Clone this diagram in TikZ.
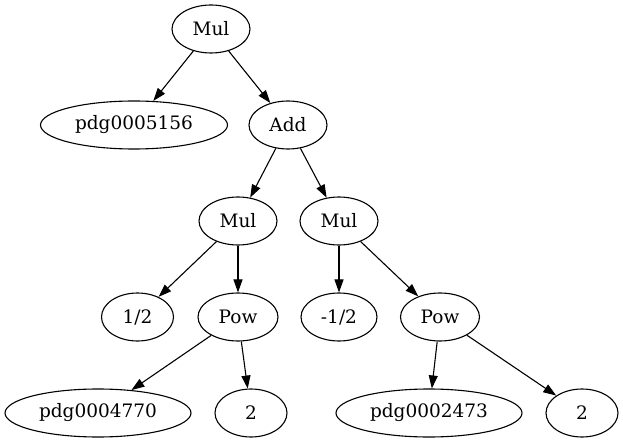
\documentclass[tikz,border=0pt]{standalone}
\usepackage{fontspec}
\setmainfont{DejaVu Serif}
\usetikzlibrary{arrows.meta,shapes.geometric}
\begin{document}
\begin{tikzpicture}[x=1pt,y=-1pt,
  nd/.style={draw,ellipse,line width=1.1pt,minimum height=48pt,inner sep=0pt,
    font=\fontsize{18.5}{22}\selectfont},
  ed/.style={line width=1.1pt,-{Triangle[length=13pt,width=9pt]}}]
\useasboundingbox (0,0) rectangle (623,443);
\node[nd,minimum width=78pt] (m1) at (211,29) {Mul};
\node[nd,minimum width=187pt] (p5156) at (134,125) {pdg0005156};
\node[nd,minimum width=78pt] (add) at (288,125) {Add};
\node[nd,minimum width=78pt] (m2) at (238,221) {Mul};
\node[nd,minimum width=78pt] (m3) at (339,221) {Mul};
\node[nd,minimum width=72pt] (h1) at (137.5,317) {1/2};
\node[nd,minimum width=80pt] (pow1) at (238,317) {Pow};
\node[nd,minimum width=76pt] (nh) at (339,317) {-1/2};
\node[nd,minimum width=79pt] (pow2) at (440,317) {Pow};
\node[nd,minimum width=186pt] (p4770) at (98,413) {pdg0004770};
\node[nd,minimum width=72pt] (two1) at (251,413) {2};
\node[nd,minimum width=186pt] (p2473) at (429,413) {pdg0002473};
\node[nd,minimum width=72pt] (two2) at (582,413) {2};
\draw[ed] (m1) -- (p5156);
\draw[ed] (m1) -- (add);
\draw[ed] (add) -- (m2);
\draw[ed] (add) -- (m3);
\draw[ed] (m2) -- (h1);
\draw[ed] (m2) -- (pow1);
\draw[ed] (m3) -- (nh);
\draw[ed] (m3) -- (pow2);
\draw[ed] (pow1) -- (p4770);
\draw[ed] (pow1) -- (two1);
\draw[ed] (pow2) -- (p2473);
\draw[ed] (pow2) -- (two2);
\end{tikzpicture}
\end{document}
